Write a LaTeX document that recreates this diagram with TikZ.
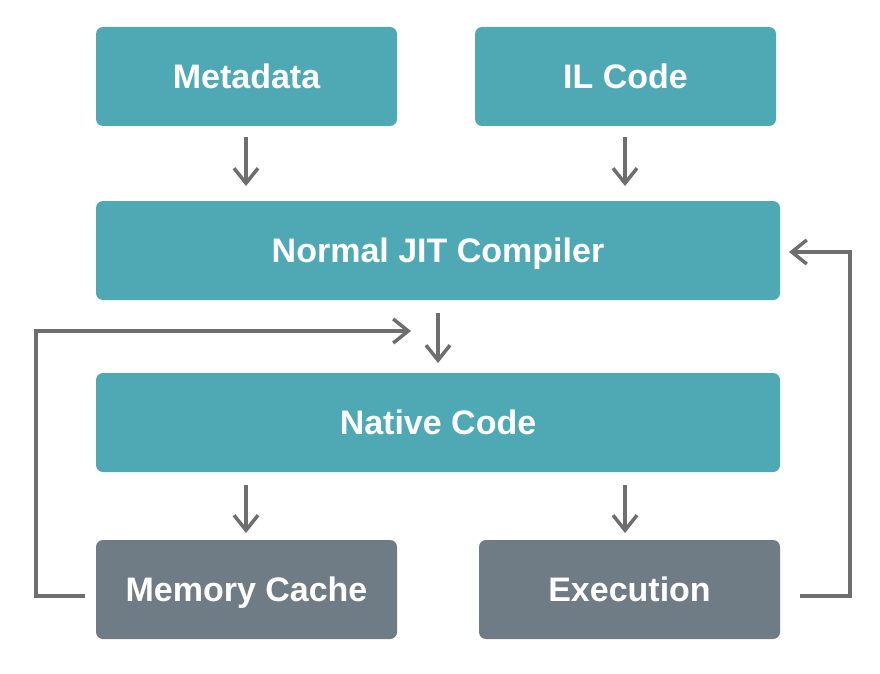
\documentclass[tikz,border=0pt]{standalone}
\usepackage{fontspec}
\setmainfont{Liberation Sans}
\usetikzlibrary{arrows.meta}
\definecolor{teal1}{HTML}{4FA9B4}
\definecolor{slate1}{HTML}{6F7C85}
\definecolor{arr}{HTML}{6E6E6E}
\begin{document}
\begin{tikzpicture}[x=1pt,y=-1pt,
  box/.style={rounded corners=7pt, inner sep=0pt, text=white, text height=24pt, text depth=0pt, font=\fontsize{34}{40}\selectfont\bfseries},
  tealbox/.style={box, fill=teal1},
  graybox/.style={box, fill=slate1},
  conn/.style={draw=arr, line width=3.5pt, -{Straight Barb[length=15pt,width=24pt,line width=3.5pt]}},
  loopline/.style={conn, rounded corners=0pt}]
\useasboundingbox (0,0) rectangle (880,674);
\fill[white] (0,0) rectangle (880,674);
% boxes
\node[tealbox, minimum width=301pt, minimum height=99pt] (meta) at (246.5,76.5) {Metadata};
\node[tealbox, minimum width=301pt, minimum height=99pt] (il) at (625.5,76.5) {IL Code};
\node[tealbox, minimum width=684pt, minimum height=99pt] (jit) at (438,250.5) {Normal JIT Compiler};
\node[tealbox, minimum width=684pt, minimum height=99pt] (nat) at (438,422.5) {Native Code};
\node[graybox, minimum width=301pt, minimum height=99pt] (mem) at (246.5,589.5) {Memory Cache};
\node[graybox, minimum width=301pt, minimum height=99pt] (exe) at (629.5,589.5) {Execution};
% helper coordinates
\coordinate (m1) at (246,137); \coordinate (m2) at (246,186);
\coordinate (i1) at (625,137); \coordinate (i2) at (625,186);
\coordinate (n1) at (438,313); \coordinate (n2) at (438,363);
\coordinate (c1) at (246,485); \coordinate (c2) at (246,533);
\coordinate (e1) at (625,485); \coordinate (e2) at (625,533);
\coordinate (ls) at (85,596); \coordinate (lt) at (411,331);
\coordinate (rs) at (800,596); \coordinate (rt) at (789,252);
% arrows
\draw[conn] (m1) -- (m2);
\draw[conn] (i1) -- (i2);
\draw[conn] (n1) -- (n2);
\draw[conn] (c1) -- (c2);
\draw[conn] (e1) -- (e2);
\draw[loopline] (ls) -- (36,596) -- (36,331) -- (lt);
\draw[loopline] (rs) -- (850,596) -- (850,252) -- (rt);
\end{tikzpicture}
\end{document}
